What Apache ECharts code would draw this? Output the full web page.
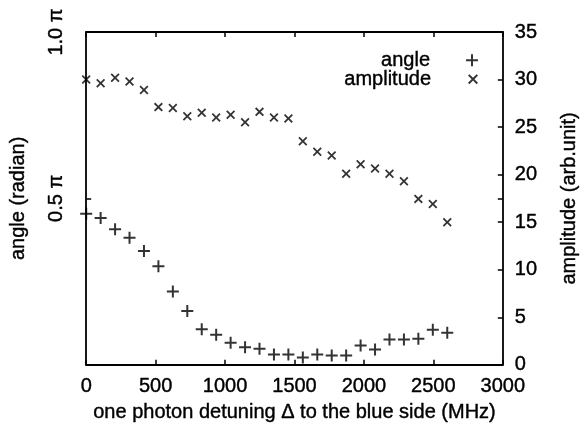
<!DOCTYPE html>
<html>
<head>
<meta charset="utf-8">
<script src="https://cdn.jsdelivr.net/npm/echarts@6/dist/echarts.min.js"></script>
<style>
html,body{margin:0;padding:0;background:#fff;}
#c{width:588px;height:428px;}
</style>
</head>
<body>
<div id="c"></div>
<script>
// ---- data ----
const detuning = [0,104,208,312,416,520,624,728,832,936,1040,1144,1248,1352,1456,1560,1664,1768,1872,1976,2080,2184,2288,2392,2496,2600];
// angle in units of pi
const angle = [0.454,0.441,0.407,0.382,0.342,0.296,0.220,0.162,0.107,0.090,0.066,0.053,0.048,0.031,0.031,0.022,0.031,0.028,0.028,0.058,0.046,0.076,0.076,0.078,0.105,0.096];
// amplitude (arb. unit)
const amplitude = [30.0,29.6,30.2,29.8,28.9,27.1,27.0,26.15,26.5,26.0,26.3,25.5,26.6,26.0,25.9,23.5,22.4,22.0,20.1,21.1,20.65,20.1,19.3,17.45,16.9,15.0];
const angleTicks = [0, 0.5, 1.0];
const angleTickLabels = ['', '0.5 π', '1.0 π'];
const xTickStep = 500;
const ampTickStep = 5;

const FONT = "'Liberation Sans', Arial, Helvetica, sans-serif";
const FS = 20;
const TB = {textBorderColor:'#000', textBorderWidth:0.4};
const PLUS = 'path://M5,0H7V5H12V7H7V12H5V7H0V5H5Z';
const CROSS = 'path://M0,1.4L1.4,0L5,3.6L8.6,0L10,1.4L6.4,5L10,8.6L8.6,10L5,6.4L1.4,10L0,8.6L3.6,5Z';

const chart = echarts.init(document.getElementById('c'), null, {renderer:'canvas'});
const lineStyle = {color:'#000', width:1.8};
const tickStyle = {color:'#000', width:1.5};
const txt = Object.assign({fontSize:FS, color:'#000', fontFamily:FONT}, TB);

chart.setOption({
  animation:false,
  backgroundColor:'#fff',
  textStyle:{fontFamily:FONT, color:'#000'},
  grid:{left:85, right:72, top:32, bottom:61},
  legend:[
    {data:['angle'], orient:'vertical', align:'right', right:110, top:50, padding:0,
     itemWidth:74, itemHeight:12, itemGap:4, textStyle:txt},
    {data:['amplitude'], orient:'vertical', align:'right', right:110, top:69, padding:0,
     itemWidth:74, itemHeight:10, itemGap:4, textStyle:txt}
  ],
  xAxis:[
    {type:'value', min:0, max:3000, interval:xTickStep, position:'bottom',
     name:'one photon detuning Δ to the blue side (MHz)', nameLocation:'middle', nameGap:38,
     nameTextStyle:txt,
     axisLine:{show:true, onZero:false, lineStyle:lineStyle},
     axisTick:{show:true, inside:true, length:5, lineStyle:tickStyle},
     axisLabel:Object.assign({margin:12, formatter:(v)=>String(v)}, txt),
     splitLine:{show:false}},
    {type:'value', min:0, max:3000, interval:xTickStep, position:'top',
     axisLine:{show:true, onZero:false, lineStyle:lineStyle},
     axisTick:{show:true, inside:true, length:5, lineStyle:tickStyle},
     axisLabel:{show:false}, splitLine:{show:false}}
  ],
  yAxis:[
    {type:'value', min:angleTicks[0], max:angleTicks[angleTicks.length-1], interval:0.5, position:'left',
     name:'angle (radian)', nameLocation:'middle', nameGap:58, nameRotate:90,
     nameTextStyle:txt,
     axisLine:{show:true, onZero:false, lineStyle:lineStyle},
     axisTick:{show:true, inside:true, length:5, lineStyle:tickStyle},
     axisLabel:Object.assign({rotate:90, margin:20,
       formatter:(v)=>{const i=angleTicks.findIndex(t=>Math.abs(t-v)<1e-9); return i>=0?angleTickLabels[i]:'';}}, txt),
     splitLine:{show:false}},
    {type:'value', min:0, max:35, interval:ampTickStep, position:'right',
     name:'amplitude (arb.unit)', nameLocation:'middle', nameGap:57, nameRotate:90,
     nameTextStyle:txt,
     axisLine:{show:true, onZero:false, lineStyle:lineStyle},
     axisTick:{show:true, inside:true, length:5, lineStyle:tickStyle},
     axisLabel:Object.assign({margin:12}, txt),
     splitLine:{show:false}},
    {type:'value', min:0, max:1, interval:0.5, position:'right', offset:0,
     axisLine:{show:false, onZero:false},
     axisTick:{show:true, inside:true, length:5, lineStyle:tickStyle},
     axisLabel:{show:false}, splitLine:{show:false}}
  ],
  series:[
    {name:'angle', type:'scatter', xAxisIndex:0, yAxisIndex:0,
     symbol:PLUS, symbolSize:12, itemStyle:{color:'#000'},
     data:detuning.map((d,i)=>[d, angle[i]])},
    {name:'amplitude', type:'scatter', xAxisIndex:0, yAxisIndex:1,
     symbol:CROSS, symbolSize:9, itemStyle:{color:'#000'},
     data:detuning.map((d,i)=>[d, amplitude[i]])}
  ]
});
</script>
</body>
</html>
